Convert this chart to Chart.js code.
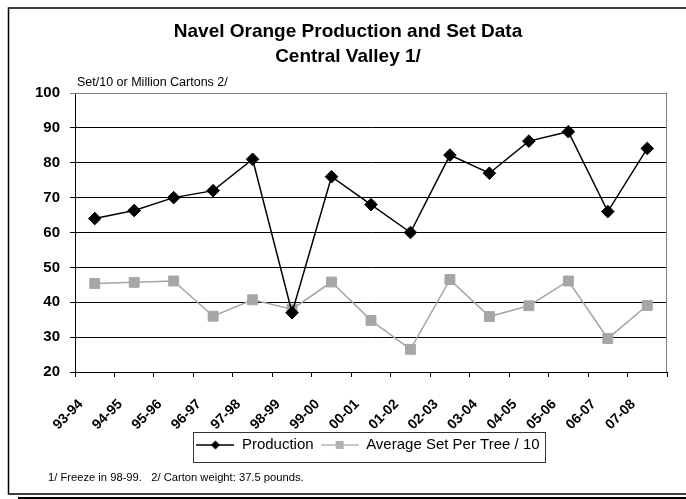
<!DOCTYPE html>
<html>
<head>
<meta charset="utf-8">
<script src="https://cdn.jsdelivr.net/npm/chart.js@4.4.1/dist/chart.umd.min.js"></script>
<style>
  html, body { margin: 0; padding: 0; background: #fff; }
  #wrap { width: 686px; height: 499px; }
</style>
</head>
<body>
<div id="wrap"><canvas id="chart" width="686" height="499"></canvas></div>
<script>
// --- data ---
const seasons = ['93-94', '94-95', '95-96', '96-97', '97-98', '98-99', '99-00', '00-01',
                 '01-02', '02-03', '03-04', '04-05', '05-06', '06-07', '07-08'];
const production = [64, 66.3, 70, 72, 81, 37, 76, 68, 60, 82.2, 77, 86.2, 88.9, 66, 84.1];
const setPerTree = [45.4, 45.7, 46.1, 36, 40.7, 38, 45.8, 34.8, 26.5, 46.5, 35.9, 39, 46.1, 29.6, 39.1];
const yMin = 20;
const yMax = 100;
const yStep = 10;

const titleLines = ['Navel Orange Production and Set Data', 'Central Valley 1/'];
const axisCaption = 'Set/10 or Million Cartons 2/';
const footnote = '1/ Freeze in 98-99.   2/ Carton weight: 37.5 pounds.';

const FONT = "'Liberation Sans', Arial, sans-serif";
const GRAY = '#a6a6a6';

// small canvases used as legend swatches (line + marker)
const swatch = (color, shape) => {
    const c = document.createElement('canvas');
    c.width = 38; c.height = 12;
    const g = c.getContext('2d');
    g.strokeStyle = color;
    g.lineWidth = 1.4;
    g.beginPath(); g.moveTo(0, 6); g.lineTo(38, 6); g.stroke();
    g.fillStyle = color;
    if (shape === 'diamond') {
        g.beginPath();
        g.moveTo(19, 1.5); g.lineTo(23.5, 6); g.lineTo(19, 10.5); g.lineTo(14.5, 6);
        g.closePath(); g.fill();
    } else {
        g.fillRect(15, 2, 8, 8);
    }
    return c;
};
const swatches = [swatch('#000', 'diamond'), swatch('#b3b3b3', 'square')];

// frame, legend box and loose texts
const decor = {
    id: 'decor',
    afterLayout(chart) {
        const lg = chart.legend;
        lg.left += 20;
        lg.right += 20;
    },
    beforeDraw(chart) {
        const ctx = chart.ctx;
        ctx.save();
        ctx.fillStyle = '#fff';
        ctx.fillRect(0, 0, chart.width, chart.height);
        ctx.restore();
    },
    afterDraw(chart) {
        const ctx = chart.ctx;
        const a = chart.chartArea;
        ctx.save();

        // plot area frame (top/right)
        ctx.strokeStyle = '#808080';
        ctx.lineWidth = 1;
        ctx.beginPath();
        ctx.moveTo(a.left, a.top + 0.5);
        ctx.lineTo(a.right - 0.5, a.top + 0.5);
        ctx.lineTo(a.right - 0.5, a.bottom);
        ctx.stroke();

        // legend border
        const lg = chart.legend;
        const pad = lg.options.labels.padding;
        const cx = (lg.left + pad + lg.right - lg.lineWidths[0]) / 2;
        const ty = lg.top + pad + 7.5;
        ctx.strokeStyle = '#333';
        ctx.strokeRect(Math.round(cx - 3) + 0.5, Math.round(ty - 13) + 0.5,
                       Math.round(lg.lineWidths[0] - pad + 9), 30);

        // axis caption + footnote
        ctx.fillStyle = '#000';
        ctx.textBaseline = 'middle';
        ctx.textAlign = 'left';
        ctx.font = '12.5px ' + FONT;
        ctx.fillText(axisCaption, 77, 83);
        ctx.font = '11.2px ' + FONT;
        ctx.fillText(footnote, 48, 478);

        // outer frame
        ctx.strokeStyle = '#000';
        ctx.lineWidth = 1.5;
        ctx.strokeRect(8.5, 8, 720, 486);
        ctx.lineWidth = 2;
        ctx.beginPath();
        ctx.moveTo(18, 498);
        ctx.lineTo(686, 498);
        ctx.stroke();
        ctx.restore();
    }
};

new Chart(document.getElementById('chart'), {
    type: 'line',
    data: {
        labels: seasons,
        datasets: [
            {
                label: 'Production',
                data: production,
                borderColor: '#000',
                backgroundColor: '#000',
                borderWidth: 1.5,
                pointStyle: 'rectRot',
                pointRadius: 6.3,
                pointBorderWidth: 1,
                pointBackgroundColor: '#000',
                pointBorderColor: '#000',
                tension: 0
            },
            {
                label: 'Average Set Per Tree / 10',
                data: setPerTree,
                borderColor: GRAY,
                backgroundColor: GRAY,
                borderWidth: 1.5,
                pointStyle: 'rect',
                pointRadius: 7,
                pointBorderWidth: 1,
                pointBackgroundColor: GRAY,
                pointBorderColor: GRAY,
                tension: 0
            }
        ]
    },
    options: {
        responsive: false,
        animation: false,
        devicePixelRatio: 1,
        layout: { padding: { top: 8, left: 29, right: 19, bottom: 36.5 } },
        scales: {
            x: {
                offset: true,
                grid: { display: true, offset: true, drawOnChartArea: false, color: '#000', tickLength: 5 },
                border: { color: '#000', width: 1 },
                ticks: {
                    autoSkip: false,
                    minRotation: 45,
                    maxRotation: 45,
                    padding: 19,
                    labelOffset: -14,
                    color: '#000',
                    font: { family: FONT, size: 14, weight: 'bold' }
                },
                afterFit: (s) => { s.height = 58.5; }
            },
            y: {
                min: yMin,
                max: yMax,
                ticks: {
                    stepSize: yStep,
                    padding: 10,
                    color: '#000',
                    font: { family: FONT, size: 15, weight: 'bold' }
                },
                grid: {
                    color: (c) => c.tick && c.tick.value === yMax ? '#808080' : '#000',
                    tickLength: 5,
                    lineWidth: 1
                },
                border: { color: '#000', width: 1 },
                afterFit: (s) => { s.width = 46; }
            }
        },
        plugins: {
            title: {
                display: true,
                text: titleLines,
                color: '#000',
                font: { family: FONT, size: 19, weight: 'bold', lineHeight: 25 / 19 },
                padding: { top: 11.5, bottom: 23.5 }
            },
            legend: {
                position: 'bottom',
                labels: {
                    usePointStyle: true,
                    pointStyleWidth: 38,
                    padding: 7,
                    color: '#000',
                    font: { family: FONT, size: 15 },
                    generateLabels: (chart) => {
                        const items = Chart.defaults.plugins.legend.labels.generateLabels(chart);
                        items.forEach((it, i) => { it.pointStyle = swatches[i]; });
                        return items;
                    }
                }
            },
            tooltip: { enabled: false }
        }
    },
    plugins: [decor]
});
</script>
</body>
</html>
